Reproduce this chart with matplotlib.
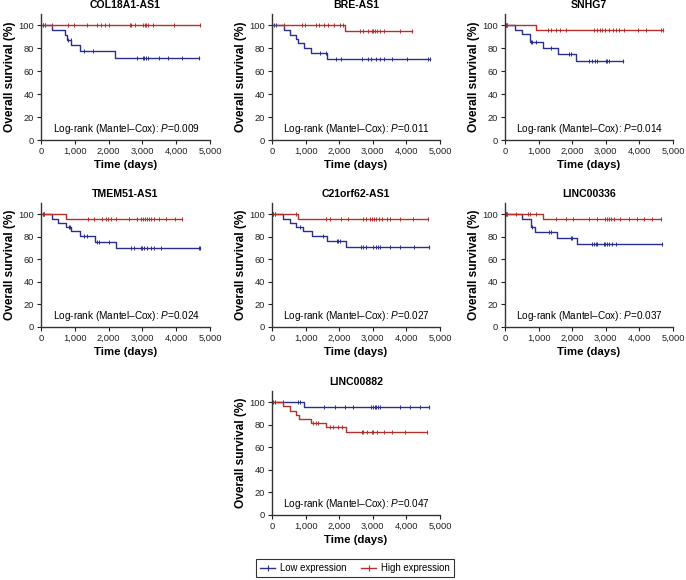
import numpy as np
import matplotlib
matplotlib.use("Agg")
import matplotlib.pyplot as plt
from matplotlib.lines import Line2D

plt.rcParams['font.family'] = ['Liberation Sans', 'DejaVu Sans']
plt.rcParams['mathtext.fontset'] = 'custom'
plt.rcParams['mathtext.rm'] = 'Liberation Sans'
plt.rcParams['mathtext.it'] = 'Liberation Sans:italic'

titles = ['COL18A1-AS1', 'BRE-AS1', 'SNHG7', 'TMEM51-AS1', 'C21orf62-AS1', 'LINC00336', 'LINC00882']
pvals = ['0.009', '0.011', '0.014', '0.024', '0.027', '0.037', '0.047']

# step times (days), survival (%), censor times (days) -- low / high expression
col18_low_t = [0, 316, 711, 760, 889, 1156, 2194]
col18_low_s = [100, 95.8, 91.6, 87.4, 82.8, 77.5, 71.5]
col18_low_c = [49, 109, 790, 880, 1275, 1540, 2850, 3010, 3060, 3110, 3180, 3500, 3750, 4170, 4664]
col18_high_t = [0]
col18_high_s = [100]
col18_high_c = [49, 109, 316, 790, 978, 1374, 1670, 1769, 1897, 2026, 2619, 2668, 2767, 3014,
                3063, 3113, 3162, 3310, 3942, 4694]

bre_low_t = [0, 349, 528, 727, 777, 946, 1165, 1623]
bre_low_s = [100, 96, 92, 88, 84.5, 80, 76, 70.5]
bre_low_c = [60, 130, 1420, 1600, 1900, 2050, 2680, 2850, 2950, 3100, 3200, 3320, 3560, 4020, 4650, 4700]
bre_high_t = [0, 2180]
bre_high_s = [100, 95.5]
bre_high_c = [349, 905, 975, 1320, 1400, 1550, 1680, 1850, 2020, 2120, 2620, 2720, 2870, 2970,
              3020, 3070, 3120, 3220, 3320, 3820, 4180]

snhg_low_t = [0, 298, 497, 736, 1133, 1571, 2127]
snhg_low_s = [100, 96, 92.3, 85.8, 80.3, 75, 69.3]
snhg_low_c = [20, 70, 765, 815, 915, 1360, 1900, 1960, 2500, 2600, 2680, 2750, 3000, 3050, 3100, 3500]
snhg_high_t = [0, 915]
snhg_high_s = [100, 96.2]
snhg_high_c = [20, 70, 1290, 1360, 1510, 1630, 1810, 2650, 2750, 2820, 2900, 2980, 3100, 3200,
               3300, 3400, 3550, 3950, 4200, 4640, 4690]

tmem_low_t = [0, 338, 517, 746, 885, 1163, 1610, 2207]
tmem_low_s = [100, 96.2, 92.4, 89, 85.4, 80.4, 75.7, 70.2]
tmem_low_c = [50, 100, 815, 865, 1260, 1360, 1660, 1710, 2000, 2650, 2760, 2950, 3000, 3050, 3150,
              3250, 3350, 3550, 4660, 4690]
tmem_high_t = [0, 726]
tmem_high_s = [100, 95.9]
tmem_high_c = [50, 100, 1380, 1560, 1810, 1910, 1980, 2060, 2210, 2600, 2850, 2950, 3020, 3090,
               3140, 3190, 3250, 3350, 3500, 3700, 3950, 4170]

c21_low_t = [0, 329, 528, 727, 926, 1195, 1623, 2191]
c21_low_s = [100, 96, 92.2, 88.6, 85, 81, 76.3, 71]
c21_low_c = [30, 90, 826, 1520, 1920, 1970, 2020, 2660, 2710, 2810, 3010, 3110, 3160, 3210, 3520,
             3820, 4220, 4680]
c21_high_t = [0, 760]
c21_high_s = [100, 96]
c21_high_c = [30, 90, 720, 1620, 1720, 2060, 2260, 2710, 2810, 2910, 2980, 3030, 3110, 3180, 3260,
              3410, 3510, 3810, 4210, 4650]

l336_low_t = [0, 495, 760, 891, 1554, 2149]
l336_low_s = [100, 96, 88.5, 84, 79, 73.7]
l336_low_c = [20, 70, 815, 1310, 1360, 1950, 2000, 2600, 2650, 2700, 2750, 2940, 2990, 3040, 3090,
              3190, 3290, 4680]
l336_high_t = [0, 1129]
l336_high_s = [100, 95.6]
l336_high_c = [20, 70, 320, 690, 730, 930, 1510, 1810, 2010, 2500, 2740, 2990, 3040, 3090, 3140,
               3240, 3430, 3680, 3930, 4130, 4380, 4630]

l882_low_t = [0, 944]
l882_low_s = [100, 95.6]
l882_low_c = [30, 80, 330, 770, 820, 1550, 1870, 2170, 2420, 2960, 3010, 3060, 3110, 3160, 3210,
              3810, 4100, 4400, 4680]
l882_high_t = [0, 328, 527, 726, 795, 1173, 1600, 2197]
l882_high_s = [100, 96.5, 92.5, 89, 85.5, 82, 78, 73.7]
l882_high_c = [1220, 1320, 1370, 1720, 1820, 1970, 2070, 2670, 2720, 2820, 2970, 3020, 3120, 3320,
               3570, 3960, 4620]

panels = [
    (col18_low_t, col18_low_s, col18_low_c, col18_high_t, col18_high_s, col18_high_c),
    (bre_low_t, bre_low_s, bre_low_c, bre_high_t, bre_high_s, bre_high_c),
    (snhg_low_t, snhg_low_s, snhg_low_c, snhg_high_t, snhg_high_s, snhg_high_c),
    (tmem_low_t, tmem_low_s, tmem_low_c, tmem_high_t, tmem_high_s, tmem_high_c),
    (c21_low_t, c21_low_s, c21_low_c, c21_high_t, c21_high_s, c21_high_c),
    (l336_low_t, l336_low_s, l336_low_c, l336_high_t, l336_high_s, l336_high_c),
    (l882_low_t, l882_low_s, l882_low_c, l882_high_t, l882_high_s, l882_high_c),
]

LOW_COL = '#2a2f8f'
HIGH_COL = '#b3302c'

W, H = 686, 580
# axes boxes in pixels: left, top, right, bottom
boxes = [(41, 14, 210, 140), (272, 14, 440, 140), (505, 14, 673, 140),
         (41, 203, 210, 327), (272, 203, 440, 327), (505, 203, 673, 327),
         (272, 391, 440, 515)]


def km(ax, t, s, c, color):
    x = list(t) + [max(max(c), t[-1])]
    y = list(s) + [s[-1]]
    ax.step(x, y, where='post', color=color, lw=1.0)
    idx = np.searchsorted(t, c, side='right') - 1
    ax.plot(c, np.array(s)[idx], ls='none', marker='|', ms=3.5, mew=0.7, color=color)


fig = plt.figure(figsize=(W / 100, H / 100), dpi=100)

for i, (box, data) in enumerate(zip(boxes, panels)):
    l, t, r, b = box
    ax = fig.add_axes([l / W, 1 - b / H, (r - l) / W, (b - t) / H])
    km(ax, data[0], data[1], data[2], LOW_COL)
    km(ax, data[3], data[4], data[5], HIGH_COL)
    ax.set_xlim(0, 5000)
    ax.set_ylim(0, 110)
    ax.set_xticks(range(0, 5001, 1000))
    ax.set_xticklabels(['0', '1,000', '2,000', '3,000', '4,000', '5,000'])
    ax.set_yticks(range(0, 101, 20))
    for sp in ['top', 'right']:
        ax.spines[sp].set_visible(False)
    for sp in ['left', 'bottom']:
        ax.spines[sp].set_color('#333333')
        ax.spines[sp].set_linewidth(1.0)
    ax.tick_params(labelsize=6.7, length=3, width=0.8, pad=2, colors='#222222')
    ax.set_title(titles[i], fontsize=7.6, fontweight='bold', pad=4)
    ax.set_xlabel('Time (days)', fontsize=8.2, fontweight='bold', labelpad=3)
    ax.set_ylabel('Overall survival (%)', fontsize=8.6, fontweight='bold', labelpad=2)
    ax.text(4700, 10, 'Log-rank (Mantel\u2013Cox): $P$=' + pvals[i], ha='right', va='center',
            fontsize=7.2)

handles = [Line2D([], [], color=LOW_COL, lw=1.0, marker='|', ms=4, mew=0.8),
           Line2D([], [], color=HIGH_COL, lw=1.0, marker='|', ms=4, mew=0.8)]
leg = fig.legend(handles, ['Low expression', 'High expression'], loc='center',
                 bbox_to_anchor=(355 / W, 1 - 568 / H), ncol=2, fontsize=6.9,
                 frameon=True, fancybox=False, edgecolor='black', handlelength=1.6,
                 columnspacing=1.5, handletextpad=0.5, borderpad=0.4)
leg.get_frame().set_linewidth(0.8)

fig.savefig('out.png', dpi=100)
